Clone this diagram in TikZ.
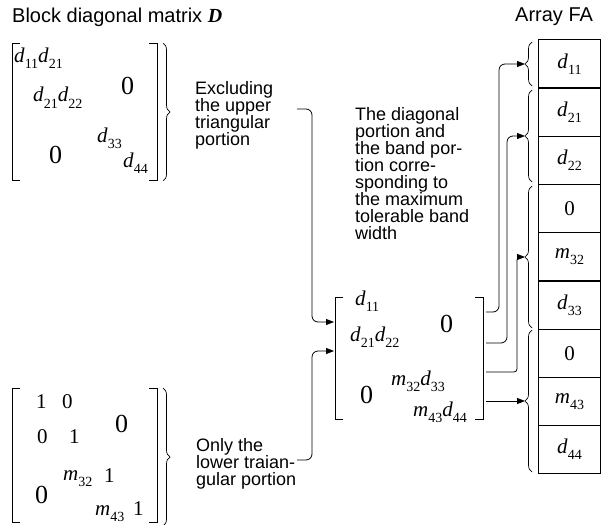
\documentclass[tikz,border=0pt]{standalone}
\usepackage{fontspec}
\setmainfont{Liberation Serif}
\newfontfamily\labfont{Liberation Sans}
\usetikzlibrary{positioning,arrows.meta,decorations.pathreplacing}

\newcommand{\subsz}{\fontsize{14}{14}\selectfont}
\newcommand{\el}[2]{\textit{#1}\raisebox{-6pt}{\subsz #2}}

\tikzset{
  lab/.style={font=\labfont\fontsize{18}{17}\selectfont, align=left, inner sep=0pt},
  ttl/.style={font=\labfont\fontsize{20}{20}\selectfont, inner sep=0pt, anchor=west},
  elem/.style={font=\fontsize{21}{21}\selectfont, inner sep=0pt, anchor=base west},
  bigzero/.style={font=\fontsize{26}{26}\selectfont, inner sep=0pt, anchor=base west},
  cell/.style={draw, line width=1.2pt, minimum width=62pt, minimum height=48.2pt,
    outer sep=0pt, inner sep=0pt, font=\fontsize{21}{21}\selectfont},
  brk/.style={line width=0.7pt},
  curly/.style={line width=0.7pt, decorate, decoration={brace, amplitude=7pt}},
  conn/.style={line width=0.8pt, rounded corners=6pt, -{Triangle[length=8pt,width=6pt]}},
}

\begin{document}
\begin{tikzpicture}[x=1pt,y=-1pt]
\useasboundingbox (0,0) rectangle (604,524);

% titles
\node[ttl] (ttlD) at (12,17) {Block diagonal matrix {\rmfamily\bfseries\itshape D}};
\node[ttl] (ttlFA) at (515,17) {Array FA};

% block diagonal matrix D
\draw[brk] (20,43) -- (12,43) -- (12,180) -- (20,180);
\draw[brk] (149,43) -- (157,43) -- (157,180) -- (149,180);
\draw[curly] (163,43) -- (163,181);
\node[elem] (dA) at (14,63) {\el{d}{11}\el{d}{21}};
\node[bigzero] (dZu) at (121,95) {0};
\node[elem] (dB) at (33,102) {\el{d}{21}\el{d}{22}};
\node[elem] (dC) at (97,142) {\el{d}{33}};
\node[bigzero] (dZl) at (49,163) {0};
\node[elem] (dD) at (123,167) {\el{d}{44}};
\node[lab,anchor=north west] (lbEx) at (195,81) {Excluding\\the upper\\triangular\\portion};

% unit lower triangular matrix
\draw[brk] (20,388) -- (12,388) -- (12,522) -- (20,522);
\draw[brk] (149,388) -- (157,388) -- (157,522) -- (149,522);
\draw[curly] (163,388) -- (163,526);
\node[elem] (u11) at (36,408) {1};
\node[elem] (u12) at (62,408) {0};
\node[bigzero] (uZu) at (115,432) {0};
\node[elem] (u21) at (37,443) {0};
\node[elem] (u22) at (69,443) {1};
\node[elem] (u32) at (63,480) {\el{m}{32}};
\node[elem] (u33) at (104,482) {1};
\node[bigzero] (uZl) at (35,503) {0};
\node[elem] (u43) at (95,515) {\el{m}{43}};
\node[elem] (u44) at (133,515) {1};
\node[lab,anchor=north west] (lbOn) at (196,438) {Only the\\lower traian-\\gular portion};

% combined band matrix
\draw[brk] (343,297) -- (335,297) -- (335,419) -- (343,419);
\draw[brk] (475,297) -- (483,297) -- (483,419) -- (475,419);
\node[elem] (c11) at (355,305) {\el{d}{11}};
\node[bigzero] (cZu) at (440,332) {0};
\node[elem] (c2) at (350,341) {\el{d}{21}\el{d}{22}};
\node[elem] (c3) at (391,385) {\el{m}{32}\el{d}{33}};
\node[bigzero] (cZl) at (360,403) {0};
\node[elem] (c4) at (413,416) {\el{m}{43}\el{d}{44}};
\node[lab,anchor=north west] (lbBand) at (355,107) {The diagonal\\portion and\\the band por-\\tion corre-\\sponding to\\the maximum\\tolerable band\\width};

% array FA
\node[cell] (fa1) at (569.5,64) {\el{d}{11}};
\node[cell,below=0pt of fa1] (fa2) {\el{d}{21}};
\node[cell,below=0pt of fa2] (fa3) {\el{d}{22}};
\node[cell,below=0pt of fa3] (fa4) {0};
\node[cell,below=0pt of fa4] (fa5) {\el{m}{32}};
\node[cell,below=0pt of fa5] (fa6) {\el{d}{33}};
\node[cell,below=0pt of fa6] (fa7) {0};
\node[cell,below=0pt of fa7] (fa8) {\el{m}{43}};
\node[cell,below=0pt of fa8] (fa9) {\el{d}{44}};
\draw[curly] (532,86) -- (532,42);
\draw[curly] (532,182) -- (532,90);
\draw[curly] (532,328) -- (532,186);
\draw[curly] (532,472) -- (532,330);

% connector ends
\coordinate (exOut) at (297,109);
\coordinate (onOut) at (297,460);
\coordinate (cIn1) at (334,322);
\coordinate (cIn2) at (334,351);
\coordinate (cOut1) at (486,312);
\coordinate (cOut2) at (486,343);
\coordinate (cOut3) at (486,372);
\coordinate (cOut4) at (486,401);
\coordinate (tip1) at (525,64);
\coordinate (tip2) at (525,136);
\coordinate (tip3) at (525,257);
\coordinate (tip4) at (525,401);
\coordinate (k1) at (312,322);
\coordinate (k2) at (312,351);
\coordinate (k3) at (499,64);
\coordinate (k4) at (507,136);
\coordinate (k5) at (517,257);

\draw[conn] (exOut) -| (k1) -- (cIn1);
\draw[conn] (onOut) -| (k2) -- (cIn2);
\draw[conn] (cOut1) -| (k3) -- (tip1);
\draw[conn] (cOut2) -| (k4) -- (tip2);
\draw[conn,rounded corners=3pt] (cOut3) -| (k5) -- (tip3);
\draw[conn] (cOut4) -- (tip4);
\end{tikzpicture}
\end{document}
